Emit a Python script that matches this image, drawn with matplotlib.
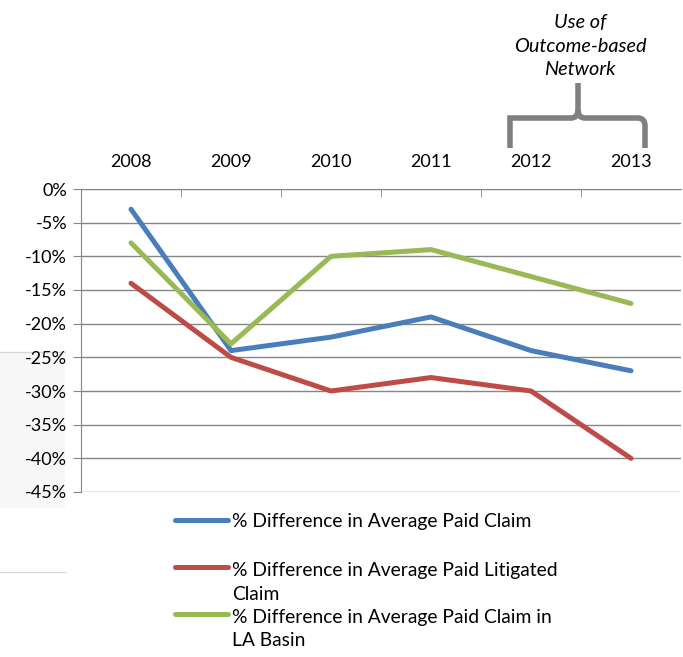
import matplotlib
matplotlib.use("Agg")
import matplotlib.pyplot as plt
from matplotlib.path import Path
from matplotlib.patches import PathPatch, Rectangle
import matplotlib.transforms as mtransforms

plt.rcParams['font.family'] = ['Lato', 'DejaVu Sans']

years = ["2008", "2009", "2010", "2011", "2012", "2013"]
paid_claim = [-3, -24, -22, -19, -24, -27]
litigated_claim = [-14, -25, -30, -28, -30, -40]
la_basin_claim = [-8, -23, -10, -9, -13, -17]
y_ticks = [0, -5, -10, -15, -20, -25, -30, -35, -40, -45]

labels = [
    "% Difference in Average Paid Claim",
    "% Difference in Average Paid Litigated\nClaim",
    "% Difference in Average Paid Claim in\nLA Basin",
]
colors = ["#4a7ebb", "#be4b48", "#98b954"]

W, H = 683, 657
fig = plt.figure(figsize=(W / 100, H / 100), dpi=100)

# faint panel on the left edge, behind everything
bg = fig.add_axes([0, 0, 1, 1], zorder=0)
bg.set_xlim(0, W)
bg.set_ylim(H, 0)
bg.axis("off")
bg.add_patch(Rectangle((0, 352), 65, 156, facecolor="#f7f7f7", edgecolor="none"))
bg.plot([0, 65], [352, 352], color="#d9d9d9", lw=1)
bg.plot([0, 65], [572, 572], color="#d9d9d9", lw=1)

ax = fig.add_axes([81 / W, 1 - 492 / H, 600 / W, 303 / H], zorder=2)
ax.set_facecolor("none")
x = list(range(len(years)))
series = [paid_claim, litigated_claim, la_basin_claim]
for vals, c in zip(series, colors):
    ax.plot(x, vals, color=c, lw=3.6, solid_capstyle="round", zorder=3)

ax.set_xlim(-0.5, len(years) - 0.5)
ax.set_ylim(-45, 0)
ax.set_yticks(y_ticks)
ax.set_yticklabels([f"{v}%" for v in y_ticks], fontsize=13)
ax.yaxis.grid(True, color="#868686", lw=1)
ax.set_axisbelow(True)

ax.xaxis.tick_top()
ax.set_xticks(x)
ax.set_xticklabels(years, fontsize=13)
ax.set_xticks([i + 0.5 for i in x[:-1]], minor=True)
ax.tick_params(axis="x", which="major", length=0, pad=14)
ax.tick_params(axis="x", which="minor", length=6, direction="in", color="#868686", top=True)
ax.tick_params(axis="y", length=6, color="#868686", pad=4)

for s in ["right", "bottom"]:
    ax.spines[s].set_visible(False)
ax.spines["top"].set_color("#868686")
ax.spines["left"].set_color("#868686")

# brace spanning the last two years
trans = mtransforms.blended_transform_factory(ax.transData, ax.transAxes)
def ya(py):
    return 1 + (189 - py) / 303
xl, xr, xc = 3.79, 5.14, 4.47
r = 0.07
verts = [
    (xl, ya(148)), (xl, ya(126)), (xl, ya(118)), (xl + r, ya(118)),
    (xc - r, ya(118)), (xc, ya(118)), (xc, ya(110)),
    (xc, ya(83)),
    (xc, ya(110)), (xc, ya(118)), (xc + r, ya(118)),
    (xr - r, ya(118)), (xr, ya(118)), (xr, ya(126)),
    (xr, ya(148)),
]
codes = [Path.MOVETO, Path.CURVE3, Path.CURVE3, Path.LINETO,
         Path.LINETO, Path.CURVE3, Path.CURVE3,
         Path.LINETO,
         Path.MOVETO, Path.CURVE3, Path.CURVE3,
         Path.LINETO, Path.CURVE3, Path.CURVE3,
         Path.LINETO]
ax.add_patch(PathPatch(Path(verts, codes), transform=trans, fill=False,
                       edgecolor="#808080", lw=4, clip_on=False, capstyle="butt"))
ax.text(4.49, ya(46), "Use of\nOutcome-based\nNetwork", transform=trans,
        ha="center", va="center", fontsize=14.3, style="italic",
        linespacing=1.45, clip_on=False)

# legend drawn entry by entry; text baseline sits on the last line
leg_rows = [520, 567, 614]
line_step = 26
for lab, c, yr in zip(labels, colors, leg_rows):
    n_extra = lab.count("\n")
    bg.plot([175, 228], [yr, yr], color=c, lw=3.6, solid_capstyle="round")
    bg.text(232, yr + 6.5 + n_extra * line_step, lab, fontsize=13.9,
            va="baseline", ha="left", linespacing=1.49)

fig.savefig("out.png", dpi=100)
